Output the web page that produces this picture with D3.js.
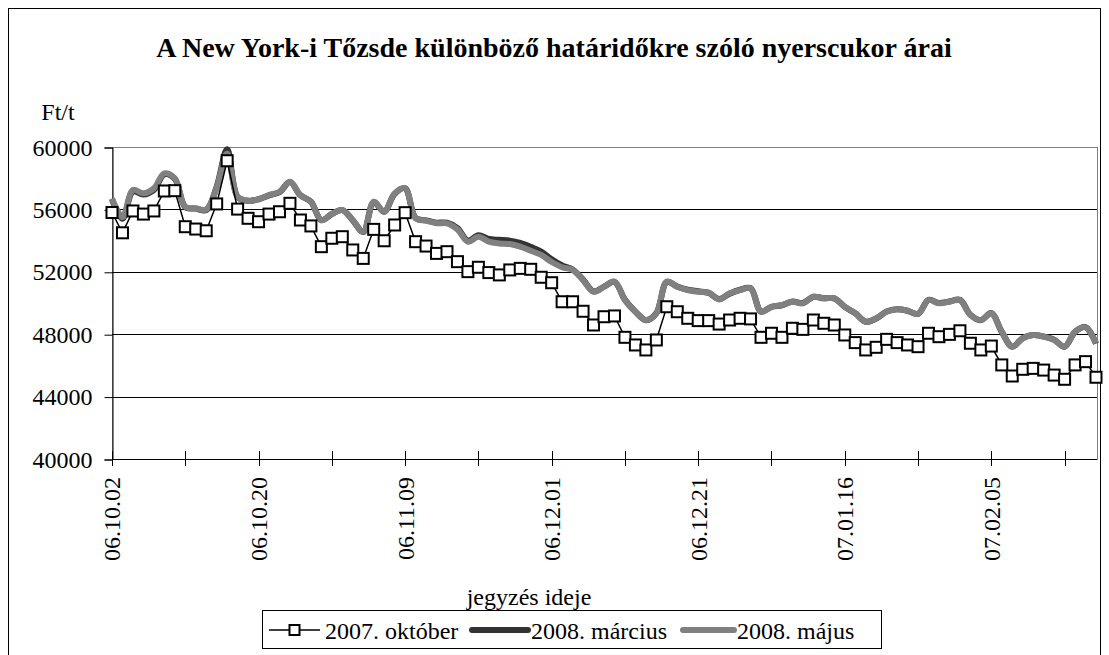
<!doctype html>
<html>
<head>
  <meta charset="utf-8">
  <title>Nyerscukor árai</title>
  <style>
    body { margin: 0; background: #fff; }
    svg text { font-family: "Liberation Serif", "Times New Roman", serif; fill: #000; }
  </style>
</head>
<body>
  <div id="vis"></div>

  <script src="https://cdn.jsdelivr.net/npm/d3@7"></script>
  <script>

    // tick labels, one every 14 trading days
    var tickLabels = ["06.10.02", "06.10.20", "06.11.09", "06.12.01", "06.12.21", "07.01.16", "07.02.05"];

    var seriesNames = ["2007. október", "2008. március", "2008. május"];

    var oct07 = [55800,54500,55900,55700,55900,57180,57200,54890,54740,54630,
                 56350,59120,56020,55430,55210,55700,55850,56390,55320,54940,
                 53610,54150,54250,53400,52860,54720,53990,55000,55790,53930,
                 53650,53180,53290,52650,52010,52290,51950,51800,52120,52220,
                 52160,51650,51300,50080,50080,49470,48590,49120,49170,47800,
                 47310,46990,47630,49760,49440,49020,48870,48870,48650,48910,
                 49020,48980,47800,48060,47800,48380,48310,48910,48700,48590,
                 47950,47460,46990,47160,47670,47460,47310,47200,48060,47840,
                 47990,48220,47420,46990,47240,46030,45320,45750,45810,45700,
                 45380,45110,46030,46240,45240];

    var mar08 = [56650,55400,57150,56950,57250,58250,57950,56150,56050,55950,
                 57450,59850,56800,56550,56650,56900,57100,57750,56900,56500,
                 55300,55700,55950,55300,54550,56450,55850,57000,57350,55450,
                 55300,55150,55150,54800,54000,54350,54100,54050,54000,53850,
                 53600,53300,52800,52400,52150,51500,50750,51050,51350,50200,
                 49450,48900,49350,51350,51050,50850,50750,50650,50250,50600,
                 50850,50950,49450,49750,49850,50100,50000,50400,50300,50300,
                 49750,49350,48800,49000,49450,49600,49500,49300,50200,50000,
                 50100,50200,49250,48900,49350,48150,47200,47750,47950,47850,
                 47650,47200,48150,48450,47400];

    var may08 = [56710,55500,57240,57030,57350,58310,58000,56170,56070,56000,
                 57400,59590,56810,56560,56650,56920,57130,57770,56920,56490,
                 55320,55710,55960,55320,54570,56490,55850,57030,57350,55430,
                 55280,55110,55110,54720,53930,54250,53930,53820,53780,53610,
                 53350,53080,52630,52290,52120,51470,50720,51040,51370,50190,
                 49440,48910,49340,51370,51040,50830,50720,50660,50230,50620,
                 50830,50940,49440,49760,49870,50080,49980,50400,50300,50300,
                 49760,49340,48800,49020,49440,49600,49510,49300,50190,49980,
                 50080,50190,49230,48910,49340,48160,47200,47740,47950,47840,
                 47630,47200,48160,48440,47420];

    var yTicks = [40000, 44000, 48000, 52000, 56000, 60000];

    var W = 1109, H = 655;
    var plotL = 112, plotR = 1096, plotT = 147, plotB = 459;

    var svg = d3.select("#vis").append("svg")
        .attr("width", W)
        .attr("height", H)
        .attr("font-family", "Liberation Serif, serif");

    // outer chart border
    svg.append("rect")
       .attr("x", 8.5).attr("y", 8.5)
       .attr("width", 1092).attr("height", 700)
       .attr("fill", "none")
       .attr("stroke", "#000")
       .attr("stroke-width", 1);

    svg.append("text")
       .attr("x", 554).attr("y", 57)
       .attr("text-anchor", "middle")
       .style("font-size", "28px")
       .style("font-weight", "bold")
       .text("A New York-i Tőzsde különböző határidőkre szóló nyerscukor árai");

    var x = d3.scaleLinear()
              .domain([0, oct07.length - 1])
              .range([plotL, plotR]);

    var y = d3.scaleLinear()
              .domain([40000, 60000])
              .range([plotB, plotT]);

    // plot area frame
    svg.append("rect")
       .attr("x", plotL + 0.5).attr("y", plotT + 0.5)
       .attr("width", 1097 - plotL).attr("height", plotB - plotT)
       .attr("fill", "none")
       .attr("stroke", "#808080");

    // gridlines
    svg.selectAll("line.grid")
       .data(yTicks.slice(1))
       .enter()
       .append("line")
       .attr("class", "grid")
       .attr("x1", plotL).attr("x2", 1097)
       .attr("y1", function(d){ return Math.round(y(d)) + 0.5; })
       .attr("y2", function(d){ return Math.round(y(d)) + 0.5; })
       .attr("stroke", function(d){ return d === 60000 ? "#808080" : "#000"; })
       .attr("stroke-width", 1);

    // y axis
    var yAxis = d3.axisLeft(y)
                  .tickValues(yTicks)
                  .tickSize(8)
                  .tickPadding(12)
                  .tickFormat(d3.format("d"));

    var gy = svg.append("g")
                .attr("transform", "translate(" + (plotL + 0.5) + ",0.5)")
                .call(yAxis);
    gy.selectAll("text")
      .style("font-size", "24px")
      .style("font-family", "Liberation Serif, serif");
    gy.selectAll("line, path").attr("stroke", "#000");

    svg.append("text")
       .attr("x", 58).attr("y", 120)
       .attr("text-anchor", "middle")
       .style("font-size", "24px")
       .text("Ft/t");

    // x axis: tick marks every 7 points, labels every 14
    var tickIdx = d3.range(0, oct07.length, 7);

    svg.append("line")
       .attr("x1", plotL).attr("x2", 1097)
       .attr("y1", plotB + 0.5).attr("y2", plotB + 0.5)
       .attr("stroke", "#000");

    svg.selectAll("line.xtick")
       .data(tickIdx)
       .enter()
       .append("line")
       .attr("class", "xtick")
       .attr("x1", function(d){ return Math.round(x(d)) + 0.5; })
       .attr("x2", function(d){ return Math.round(x(d)) + 0.5; })
       .attr("y1", plotB - 8)
       .attr("y2", plotB + 7)
       .attr("stroke", "#000");

    svg.selectAll("text.xlab")
       .data(tickLabels)
       .enter()
       .append("text")
       .attr("class", "xlab")
       .attr("text-anchor", "end")
       .attr("dy", "0.35em")
       .attr("transform", function(d, i){
         return "translate(" + x(i * 14) + "," + 477 + ") rotate(-90)";
       })
       .style("font-size", "24px")
       .text(function(d){ return d; });

    svg.append("text")
       .attr("x", 529).attr("y", 605)
       .attr("text-anchor", "middle")
       .style("font-size", "24px")
       .text("jegyzés ideje");

    // series
    var smooth = d3.line()
                   .x(function(d, i){ return x(i); })
                   .y(function(d){ return y(d); })
                   .curve(d3.curveCatmullRom.alpha(0.5));

    var straight = d3.line()
                     .x(function(d, i){ return x(i); })
                     .y(function(d){ return y(d); });

    svg.append("path")
       .datum(mar08)
       .attr("d", smooth)
       .attr("fill", "none")
       .attr("stroke", "#333333")
       .attr("stroke-width", 6)
       .attr("stroke-linejoin", "round");

    svg.append("path")
       .datum(may08)
       .attr("d", smooth)
       .attr("fill", "none")
       .attr("stroke", "#808080")
       .attr("stroke-width", 6)
       .attr("stroke-linejoin", "round");

    svg.append("path")
       .datum(oct07)
       .attr("d", straight)
       .attr("fill", "none")
       .attr("stroke", "#000")
       .attr("stroke-width", 1.5);

    svg.selectAll("rect.mark")
       .data(oct07)
       .enter()
       .append("rect")
       .attr("class", "mark")
       .attr("x", function(d, i){ return x(i) - 5.5; })
       .attr("y", function(d){ return y(d) - 5.5; })
       .attr("width", 11)
       .attr("height", 11)
       .attr("fill", "#fff")
       .attr("stroke", "#000")
       .attr("stroke-width", 2);

    // legend
    var lg = svg.append("g");
    lg.append("rect")
      .attr("x", 262.5).attr("y", 610.5)
      .attr("width", 619).attr("height", 38)
      .attr("fill", "#fff")
      .attr("stroke", "#000");

    var legendItems = [
      { name: seriesNames[0], x0: 269, x1: 320, tx: 325, color: "#000", w: 1.5, marker: true },
      { name: seriesNames[1], x0: 472, x1: 528, tx: 531, color: "#333333", w: 6, marker: false },
      { name: seriesNames[2], x0: 683, x1: 734, tx: 737, color: "#808080", w: 6, marker: false }
    ];

    legendItems.forEach(function(d){
      lg.append("line")
        .attr("x1", d.x0).attr("x2", d.x1)
        .attr("y1", 630).attr("y2", 630)
        .attr("stroke", d.color)
        .attr("stroke-width", d.w)
        .attr("stroke-linecap", d.marker ? "butt" : "round");
      if (d.marker) {
        lg.append("rect")
          .attr("x", (d.x0 + d.x1) / 2 - 5).attr("y", 625)
          .attr("width", 10).attr("height", 10)
          .attr("fill", "#fff")
          .attr("stroke", "#000")
          .attr("stroke-width", 2);
      }
      lg.append("text")
        .attr("x", d.tx).attr("y", 639)
        .style("font-size", "24px")
        .text(d.name);
    });

  </script>
</body>
</html>
